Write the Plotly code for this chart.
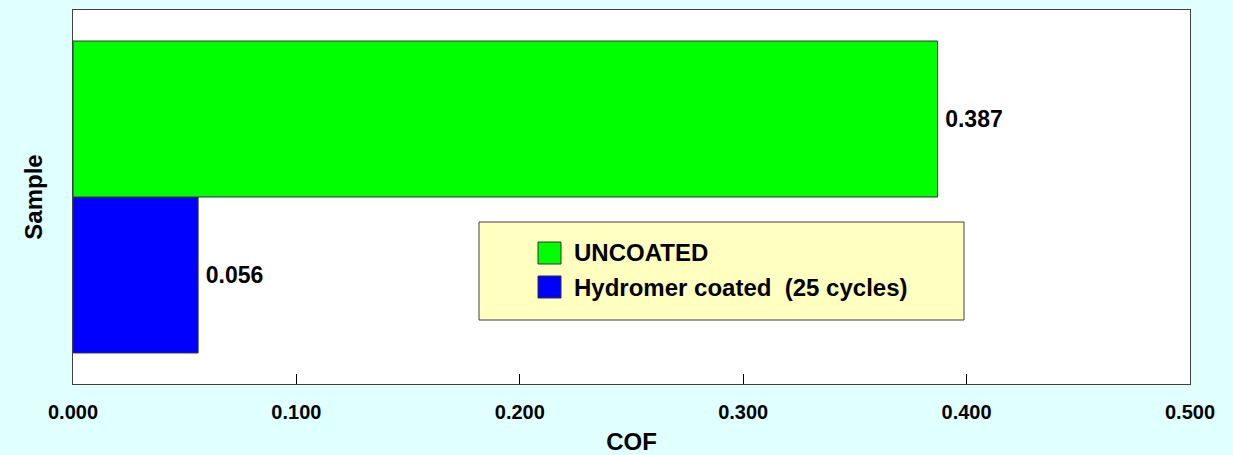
import plotly.graph_objects as go

# ---- data ----
series_names = ["UNCOATED", "Hydromer coated  (25 cycles)"]
cof_values = [0.387, 0.056]
series_colors = ["#00FF00", "#0000FF"]
category = ["Sample"]
x_ticks = [0.0, 0.1, 0.2, 0.3, 0.4, 0.5]

FONT = "Liberation Sans, Arial, sans-serif"

fig = go.Figure()
# Plotly stacks grouped horizontal bars bottom-up, so add in reverse order
for name, val, col in reversed(list(zip(series_names, cof_values, series_colors))):
    fig.add_trace(go.Bar(
        y=category, x=[val], name=name, orientation="h",
        marker=dict(color=col, line=dict(color="#333333", width=1)),
        text=[val], texttemplate="\u2009%{x:.3f}", textposition="outside",
        textfont=dict(family=FONT, size=23, color="black", weight="bold"),
        cliponaxis=False, showlegend=False, hoverinfo="skip",
    ))

# ---- manual legend (box, swatches, labels) ----
L, T, PW, PH, B = 73, 10, 1117, 374, 384
def px(x):
    return (x - L) / PW
def py(y):
    return (B - y) / PH

shapes = [dict(type="rect", xref="paper", yref="paper",
               x0=px(479), x1=px(964), y0=py(320), y1=py(222),
               fillcolor="#FFFFC0", line=dict(color="#404040", width=1), layer="above")]
annotations = []
row_centers = [253, 287]
for name, col, yc in zip(series_names, series_colors, row_centers):
    shapes.append(dict(type="rect", xref="paper", yref="paper",
                       x0=px(538), x1=px(561), y0=py(yc + 11), y1=py(yc - 11),
                       fillcolor=col, line=dict(color="#333333", width=1), layer="above"))
    annotations.append(dict(xref="paper", yref="paper", x=px(572), y=py(yc),
                            xanchor="left", yanchor="middle", showarrow=False,
                            text=name.replace("  ", " \u00a0"),
                            font=dict(family=FONT, size=24, color="black", weight="bold")))

fig.update_layout(
    width=1233, height=455,
    margin=dict(l=73, r=43, t=10, b=71, autoexpand=False),
    paper_bgcolor="#E0FFFF", plot_bgcolor="white",
    barmode="group", bargap=0.166, bargroupgap=0,
    shapes=shapes, annotations=annotations,
    font=dict(family=FONT, color="black"),
    xaxis=dict(
        range=[0, 0.5], tickvals=x_ticks, tickformat=".3f",
        ticks="inside", ticklen=10, tickcolor="black", tickwidth=1,
        ticklabelstandoff=10,
        showgrid=False, zeroline=False,
        showline=True, linecolor="#404040", linewidth=1, mirror=True,
        tickfont=dict(family=FONT, size=20, color="black", weight="bold"),
        title=dict(text="COF", standoff=20,
                   font=dict(family=FONT, size=24, color="black", weight="bold")),
    ),
    yaxis=dict(
        range=[-0.5, 0.5], showticklabels=False, ticks="",
        showgrid=False, zeroline=False,
        showline=True, linecolor="#404040", linewidth=1, mirror=True,
        title=dict(text="Sample", standoff=22,
                   font=dict(family=FONT, size=24, color="black", weight="bold")),
    ),
)

fig.write_html(
    "out.html",
    config={"displayModeBar": False},
    post_script="document.body.style.margin='0';document.body.style.background='#E0FFFF';",
)
